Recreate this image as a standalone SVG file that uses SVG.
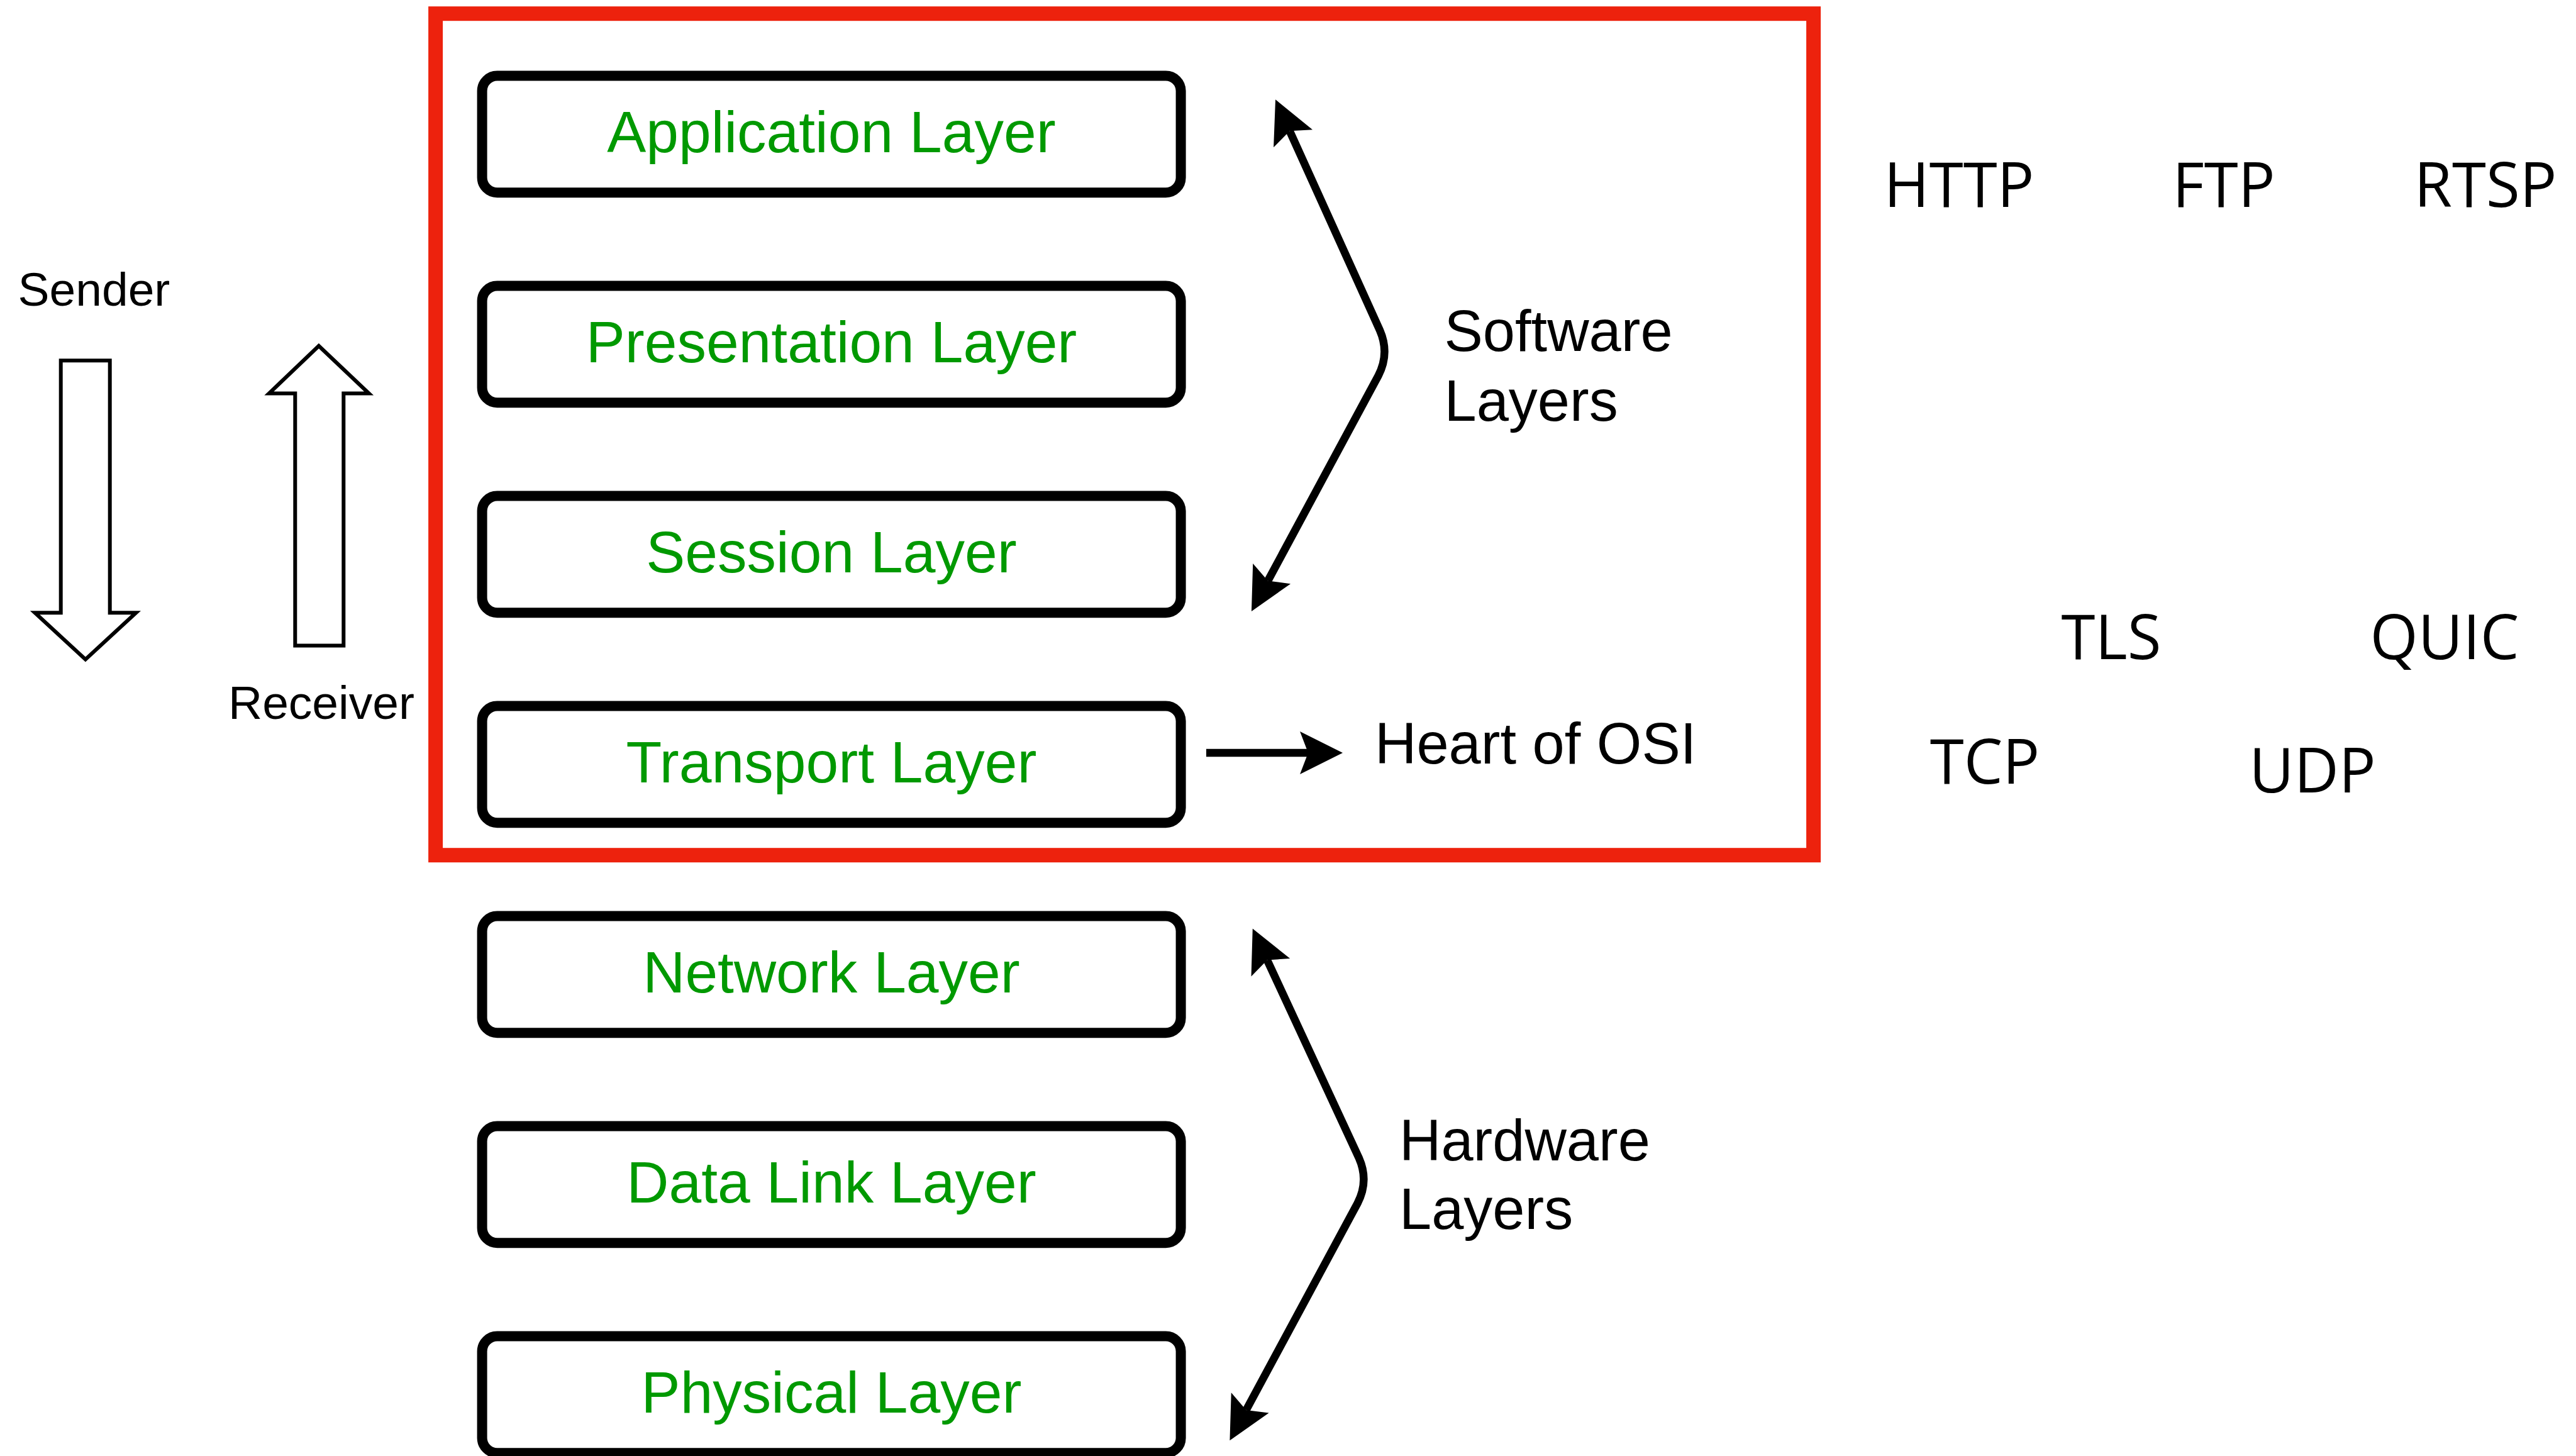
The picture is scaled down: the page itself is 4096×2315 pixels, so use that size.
<svg xmlns="http://www.w3.org/2000/svg" width="4096" height="2315" viewBox="0 0 4096 2315">
<defs>
<style>
.layer rect{fill:#ffffff;stroke:#000000;stroke-width:16}
.layer text{font-family:"Liberation Sans",Arial,sans-serif;font-size:93px;fill:#009900;text-anchor:middle}
.lbl{font-family:"Liberation Sans",Arial,sans-serif;font-size:92px;fill:#000000}
.small{font-family:"Liberation Sans",Arial,sans-serif;font-size:75px;fill:#000000}
.proto{font-family:"Open Sans","Noto Sans",sans-serif;font-size:98px;fill:#000000;text-anchor:middle}
.conn{fill:none;stroke:#000000;stroke-width:12.5;stroke-linejoin:round}
.block{fill:#ffffff;stroke:#000000;stroke-width:6;stroke-linejoin:miter}
</style>
<marker id="ah" markerUnits="userSpaceOnUse" viewBox="-15 -36 74 72" markerWidth="74" markerHeight="72" refX="0" refY="0" orient="auto-start-reverse">
<path d="M55,0 L-13,-34 L0,0 L-13,34 Z" fill="#000000"/>
</marker>
</defs>
<rect x="0" y="0" width="4096" height="2315" fill="#ffffff"/>

<rect id="software-frame" x="692.6" y="21.7" width="2191" height="1338" fill="none" stroke="#ed220d" stroke-width="23"/>

<g id="sender">
<text class="small" x="28.5" y="485.9">Sender</text>
<polygon class="block" points="96.7,573.2 174.7,573.2 174.7,974.3 216.3,974.3 135.9,1048.4 55.5,974.3 96.7,974.3"/>
</g>
<g id="receiver">
<polygon class="block" points="506.9,550 586.6,625.5 546.3,625.5 546.3,1026.6 469.3,1026.6 469.3,625.5 427.8,625.5"/>
<text class="small" x="363" y="1142.7">Receiver</text>
</g>

<g id="application-layer" class="layer"><rect x="766.6" y="120.6" width="1111" height="185.6" rx="24"/><text x="1322" y="241.6">Application Layer</text></g>
<g id="presentation-layer" class="layer"><rect x="766.6" y="454.6" width="1111" height="185.6" rx="24"/><text x="1322" y="575.6">Presentation Layer</text></g>
<g id="session-layer" class="layer"><rect x="766.6" y="788.6" width="1111" height="185.6" rx="24"/><text x="1322" y="909.6">Session Layer</text></g>
<g id="transport-layer" class="layer"><rect x="766.6" y="1122.6" width="1111" height="185.6" rx="24"/><text x="1322" y="1243.6">Transport Layer</text></g>
<g id="network-layer" class="layer"><rect x="766.6" y="1456.6" width="1111" height="185.6" rx="24"/><text x="1322" y="1577.6">Network Layer</text></g>
<g id="data-link-layer" class="layer"><rect x="766.6" y="1790.6" width="1111" height="185.6" rx="24"/><text x="1322" y="1911.6">Data Link Layer</text></g>
<g id="physical-layer" class="layer"><rect x="766.6" y="2124.6" width="1111" height="185.6" rx="24"/><text x="1322" y="2245.6">Physical Layer</text></g>

<g id="connectors">
<path class="conn" marker-start="url(#ah)" marker-end="url(#ah)" d="M2050.7,208.3 L2194,525.1 Q2210,561.8 2191.6,597.3 L2016,923.5"/>
<path class="conn" marker-end="url(#ah)" d="M1918,1197 L2080,1197"/>
<path class="conn" marker-start="url(#ah)" marker-end="url(#ah)" d="M2014.9,1526.5 L2160.8,1841.1 Q2177,1877.6 2158.6,1913.1 L1981.5,2241.9"/>
</g>

<g id="software-label"><text class="lbl" x="2296.5" y="557.7">Software</text><text class="lbl" x="2296.5" y="669.4">Layers</text></g>
<g id="heart-label"><text class="lbl" x="2186" y="1213.5">Heart of OSI</text></g>
<g id="hardware-label"><text class="lbl" x="2225" y="1845">Hardware</text><text class="lbl" x="2225" y="1954">Layers</text></g>

<g id="protocols">
<text id="http" class="proto" x="3115" y="329">HTTP</text>
<text id="ftp" class="proto" x="3536" y="329">FTP</text>
<text id="rtsp" class="proto" x="3952" y="329">RTSP</text>
<text id="tls" class="proto" x="3357" y="1047.9">TLS</text>
<text id="quic" class="proto" x="3887" y="1047.9">QUIC</text>
<text id="tcp" class="proto" x="3156" y="1245.8">TCP</text>
<text id="udp" class="proto" x="3677" y="1260.4">UDP</text>
</g>
</svg>
